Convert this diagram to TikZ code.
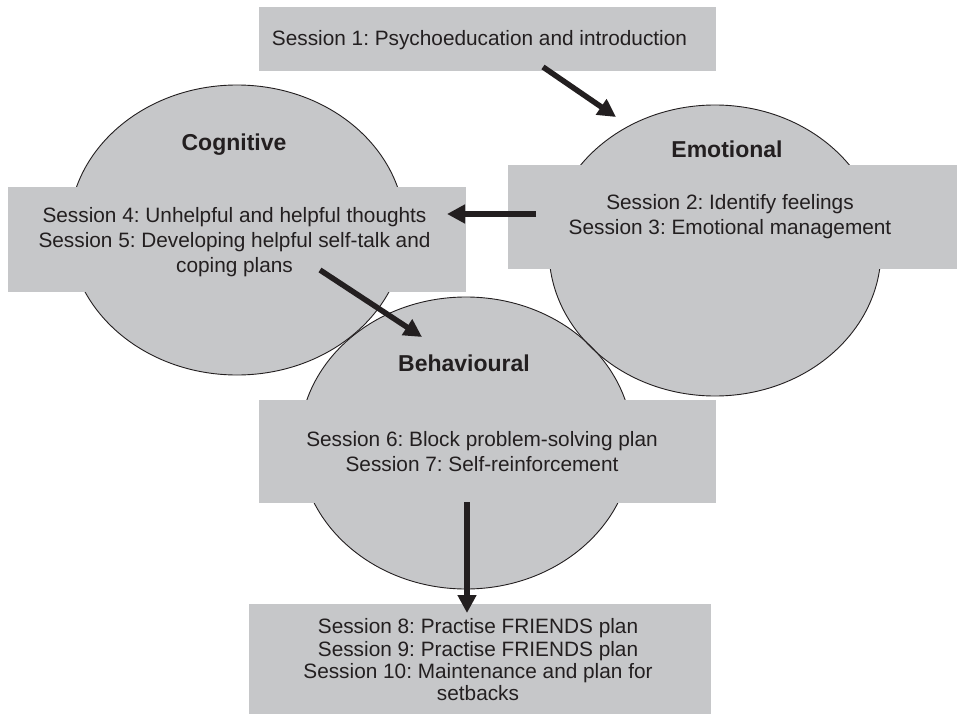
\documentclass[tikz,border=0pt]{standalone}
\usepackage{fontspec}
\setmainfont{Liberation Sans}
\usetikzlibrary{arrows.meta,shapes.geometric}
\definecolor{boxgray}{RGB}{198,199,201}
\definecolor{ink}{RGB}{35,31,32}
\frenchspacing
\begin{document}
\begin{tikzpicture}[x=1pt,y=-1pt,
  circ/.style={ellipse, inner sep=0pt, fill=boxgray},
  circline/.style={ellipse, inner sep=0pt, draw=ink, line width=0.9pt},
  sbox/.style={rectangle, inner sep=0pt, fill=boxgray, anchor=north west},
  txt/.style={text=ink, align=center, inner sep=0pt, font=\fontsize{20.8}{25}\selectfont},
  txtb/.style={text=ink, align=center, inner sep=0pt, font=\fontsize{20.8}{22.3}\selectfont},
  head/.style={text=ink, inner sep=0pt, font=\fontsize{23}{27}\selectfont\bfseries},
  conn/.style={draw=ink, line width=5.5pt, -{Triangle[length=18pt,width=18pt]}}
]
\useasboundingbox (0,0) rectangle (957,714);
% ellipse fills
\node[circ, minimum width=336, minimum height=290] (cogE) at (237,230) {};
\node[circ, minimum width=332, minimum height=291] (emoE) at (715,250.5) {};
\node[circ, minimum width=333, minimum height=292] (behE) at (466,443) {};
% ellipse outlines
\node[circline, minimum width=336, minimum height=290] (cogO) at (237,230) {};
\node[circline, minimum width=332, minimum height=291] (emoO) at (715,250.5) {};
\node[circline, minimum width=333, minimum height=292] (behO) at (466,443) {};
% boxes
\node[sbox, minimum width=457, minimum height=64] (s1box) at (259,7) {};
\node[sbox, minimum width=458, minimum height=105] (cogbox) at (8,187) {};
\node[sbox, minimum width=449, minimum height=104] (emobox) at (508,165) {};
\node[sbox, minimum width=457, minimum height=103] (behbox) at (259,400) {};
\node[sbox, minimum width=462, minimum height=110] (endbox) at (249,604) {};
% headings
\node[head] (cogH) at (234,145) {Cognitive};
\node[head] (emoH) at (727,149) {Emotional};
\node[head] (behH) at (464,363) {Behavioural};
% texts
\node[txt] (s1t) at (479.5,40) {Session 1: Psychoeducation and introduction};
\node[txt] (cogt) at (234.5,242) {Session 4: Unhelpful and helpful thoughts\\Session 5: Developing helpful self-talk and\\coping plans};
\node[txt] (emot) at (730,217) {Session 2: Identify feelings\\Session 3: Emotional management};
\node[txt] (beht) at (482,452) {Session 6: Block problem-solving plan\\Session 7: Self-reinforcement};
\node[txtb] (endt) at (478,660) {Session 8: Practise FRIENDS plan\\Session 9: Practise FRIENDS plan\\Session 10: Maintenance and plan for\\setbacks};
% connectors
\coordinate (a1s) at (543,67);
\coordinate (a1e) at (616,117);
\coordinate (a2s) at (536,214);
\coordinate (a2e) at (447,214);
\coordinate (a3s) at (320,270);
\coordinate (a3e) at (422,337);
\coordinate (a4s) at (467,502);
\coordinate (a4e) at (467,613);
\draw[conn] (a1s) -- (a1e);
\draw[conn] (a2s) -- (a2e);
\draw[conn] (a3s) -- (a3e);
\draw[conn] (a4s) -- (a4e);
\end{tikzpicture}
\end{document}
